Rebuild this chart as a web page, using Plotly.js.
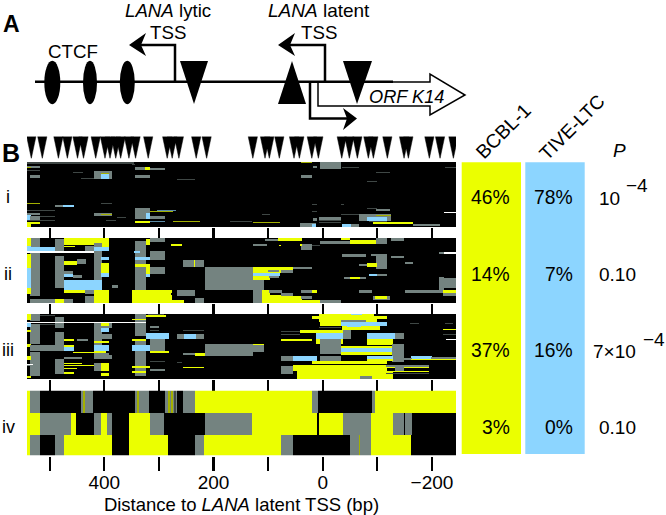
<!DOCTYPE html>
<html><head><meta charset="utf-8">
<script src="https://cdn.plot.ly/plotly-3.0.1.min.js"></script>
<style>html,body{margin:0;padding:0;background:#fff}</style></head>
<body><div id="chart" style="width:666px;height:515px"></div>
<script>
// Methylation sites (bp from LANA latent TSS)
const sites = [533.6,513.5,484,467.6,449,438,415.7,398.7,389.5,379,370,354.9,342.7,319.6,284.8,275.7,263.4,231.7,212.6,
  128,105.7,97.8,79.5,52.6,42.8,20,8,-34.8,-48.7,-63.4,-83.5,-92.7,-118.3,-148.9,-156.8,-195.2,-214.8,-239.2];
const tickBp = [500,400,300,200,100,0,-100,-200];
const tickLabels = ['','400','','200','','0','','\u2212200'];
const rowLabels = ['i','ii','iii','iv'];
const bcbl = ['46%','14%','37%','3%'];
const tive = ['78%','7%','16%','0%'];
const pBase = ['10','0.10','7\u00d710','0.10'];
const pExp = ['\u22124','','\u22124',''];

// Cluster patches: [state, bp from, bp to, first read, last read]
const panelI = [
['D',542,347,0,2],['G',542,518,4,6],['Y',542,535,5,6],['G',542,518,8,9],['G',535,518,13,16],
['G',344,316,5,8],['Y',325,316,5,8],['G',316,289,6,8],['G',344,316,13,16],
['G',418,386,9,17],['B',405,393,11,17],['Y',405,393,11,12],['G',457,438,10,11],['G',441,418,16,17],['G',265,234,17,18],['G',405,386,1,2],['G',350,344,2,3],
['Y',542,518,41,42],['G',489,456,43,45],['B',475,456,43,45],['G',405,386,41,42],
['G',542,490,48,49],['G',542,518,51,53],['G',542,490,54,55],['B',542,535,53,58],['G',535,518,54,58],['G',542,490,58,59],['Y',542,518,60,62],['Y',542,535,62,65],
['G',418,386,51,54],['Y',405,386,52,53],
['G',344,316,46,57],['B',324,316,51,57],['Y',316,274,49,50],['B',304,268,48,49],['G',316,289,54,57],['B',316,289,59,60],['Y',344,316,59,61],['Y',274,225,59,60],['G',375,360,55,56],['G',396,378,58,59],
['G',4,-34,0,7],['Y',39,20,0,1],['G',18,10,4,6],['G',39,20,13,16],['G',-37,-65,5,6],['G',-99,-123,10,11],['G',-83,-99,19,20],['G',-224,-244,5,6],
['G',20,10,42,43],['G',20,10,49,50],['G',-34,-40,42,43],['G',-83,-99,46,47],['G',-99,-123,47,49],['W',-222,-244,50,51],
['G',109,97,52,53],['G',18,10,56,59],['G',5,-33,55,59],['G',-34,-71,52,53],['G',-67,-126,52,59],['B',-83,-117,55,59],['Y',-99,-126,53,54],['G',5,-34,60,61],['Y',-92,-166,60,62],['G',-166,-215,62,64],['G',-86,-117,59,60],
['G',170,130,59,60],['Y',127,78,60,61],['G',42,12,61,65],['B',20,12,62,65],['B',-37,-53,62,65],['G',-53,-65,62,65],['G',5,-34,58,59]
];
const panelII = [
['G',535,518,0,58],['Y',542,535,0,8],['B',542,535,8,13],['Y',542,535,16,30],['B',542,535,30,50],['Y',542,535,50,56],
['G',489,474,1,50],['K',489,474,14,18],['Y',474,405,0,7],['Y',405,393,0,9],
['K',452,418,7,9],['Y',474,455,8,9],['G',436,418,8,13],['G',418,405,3,60],['Y',418,405,0,5],['B',542,490,9,13],['B',418,393,9,13],['W',542,418,13,15],
['B',405,393,19,22],['Y',405,393,25,35],['B',405,393,35,39],['Y',474,450,23,27],['G',450,435,21,26],['G',474,458,33,36],['B',474,458,36,39],['G',458,440,37,40],
['B',474,405,42,52],['Y',474,435,52,55],['G',435,418,52,56],['Y',418,393,52,65],['G',535,489,61,65],['Y',489,474,61,65],['G',474,458,61,65],['G',435,418,58,65],
['G',344,324,3,58],['B',344,316,19,22],['Y',344,316,26,29],['Y',324,316,1,7],['Y',324,316,29,36],['B',324,316,36,39],
['G',316,289,0,4],['G',316,289,13,22],['G',316,289,29,36],['B',345,335,13,15],['G',385,375,47,50],
['Y',350,277,52,65],['Y',350,255,62,65],['K',277,265,55,57],['G',265,234,52,58],['G',255,218,22,29],['Y',236,234,22,29],['Y',277,258,6,8],['G',234,218,60,65],
['G',216,128,29,52],
['G',106,82,1,3],['Y',81,38,0,3],['G',127,103,6,8],['Y',80,76,7,8],['G',39,20,6,12],['Y',42,38,6,8],['G',20,5,7,8],
['G',4,-34,3,6],['Y',-50,-99,2,6],['Y',-34,-50,0,2],['G',-34,-50,3,6],['G',-99,-117,0,6],['G',-126,-150,0,3],
['G',-37,-80,16,19],['G',-89,-99,16,18],['G',-99,-117,16,31],['G',-126,-150,18,20],['G',-153,-165,24,26],['W',-221,-244,14,16],['G',-215,-221,14,16],
['Y',-83,-99,25,29],['G',-67,-82,26,28],
['Y',128,54,29,35],['G',54,20,29,31],['B',128,78,35,38],['Y',128,97,38,42],['G',100,81,32,34],['G',75,54,32,35],['G',97,80,38,40],
['G',-41,-80,39,41],['Y',-50,-67,39,41],['G',-86,-117,36,38],['B',-86,-99,36,38],
['G',128,109,42,65],['Y',109,97,52,65],['Y',97,75,57,65],['Y',109,39,58,65],['Y',109,4,62,65],
['G',97,75,52,55],['G',75,54,55,58],['G',39,11,52,55],['Y',20,11,52,55],['G',39,20,58,61],
['G',4,-34,62,65],['G',-67,-89,52,55],['G',-92,-123,58,62],['Y',-97,-117,58,61],['G',-153,-215,52,55],
['G',-215,-221,39,55],['G',-221,-244,40,50],['Y',-221,-244,52,55],['G',-221,-244,55,58]
];
const panelIII = [
['G',535,518,0,7],['G',535,518,10,30],['G',535,518,38,62],['G',489,474,3,14],['G',489,474,18,37],['G',489,474,45,60],['G',418,405,8,45],['G',344,324,0,22],['G',344,324,25,62],
['Y',542,535,0,6],['B',542,535,8,13],['Y',542,535,16,18],['Y',542,535,30,33],['Y',542,535,42,46],['G',542,518,50,52],['W',542,530,50,51],['Y',542,535,62,64],
['G',535,489,31,37],['G',518,490,1,2],['G',518,490,10,11],
['Y',474,457,25,27],['Y',474,457,31,33],['B',474,457,33,37],['Y',474,440,49,50],['Y',474,418,51,52],['Y',474,450,54,55],['Y',474,457,58,60],['Y',457,418,38,39],['G',474,440,43,45],
['G',418,386,8,14],['G',418,386,20,25],['G',418,405,14,18],['B',405,393,14,18],['Y',405,393,9,12],['Y',418,393,27,29],['B',418,393,31,37],['Y',418,396,37,39],['G',418,393,39,41],['G',405,386,41,45],['G',418,405,49,57],['Y',405,393,49,57],['Y',405,393,59,62],['G',418,405,29,31],['G',450,430,25,27],
['Y',350,324,5,6],['Y',350,324,25,27],['B',349,316,31,37],['Y',350,316,52,54],['Y',350,324,57,59],['Y',324,286,1,3],['G',320,290,0,1],
['W',542,324,8,9],
['B',324,283,19,25],['G',316,289,25,37],['Y',316,283,37,39],['G',316,289,47,48],['G',316,289,55,57],['G',316,300,12,14],['G',316,300,16,17],
['B',255,231,20,25],['G',265,255,20,25],['G',231,218,20,25],['Y',234,216,39,42],['G',255,234,39,41],['G',255,218,16,17],['Y',255,218,53,54],['G',265,258,48,49],
['G',216,128,30,42],['G',128,109,30,38],['Y',128,109,30,31],
['Y',5,-93,0,2],['B',-53,-71,0,1],['Y',20,-117,2,5],['Y',5,-100,5,8],['Y',4,-34,8,12],['B',-34,-117,8,12],['Y',-37,-105,12,16],['B',-45,-70,12,13],['G',-34,-80,6,8],['G',5,-34,13,14],
['Y',42,-38,16,19],['G',75,42,17,18],['G',75,42,20,21],['B',11,-38,19,25],['G',-38,-51,16,25],['B',-83,-132,19,25],['G',-132,-150,19,25],
['Y',11,-38,25,30],['Y',75,20,25,27],['Y',-83,-129,25,31],['G',4,-33,25,40],
['B',-34,-129,34,38],['Y',-34,-129,32,34],['Y',-34,-129,38,41],['G',-129,-150,30,48],
['B',54,11,42,47],['G',75,54,42,47],['G',4,-33,42,47],['Y',-83,-129,42,47],['B',-83,-129,42,45],
['Y',20,-117,47,50],['Y',54,-117,51,57],['G',75,54,52,60],['Y',45,-129,57,65],['G',-68,-89,62,65],
['B',-163,-199,42,46],['G',-199,-244,43,46],['G',-150,-163,44,46],['Y',-163,-244,45,46],
['G',-117,-196,51,53],['Y',-117,-196,53,54],['G',-132,-150,51,57],['Y',-117,-196,57,58],['G',-117,-196,59,60],
['Y',-221,-244,15,16],['G',-221,-244,20,21],['W',-226,-244,25,26],['G',-160,-175,9,10],['G',-225,-240,9,10]
];
// Panel iv: three reads as runs [first read, last read, edges, states]
const panelIV = [
[0,22,[542,535,518,442,419,344,318,288,266,255,234,19,8,-91,-97,-244],'YGKGKGKGKGYGKGY'],
[22,44,[542,518,473,460,452,418,405,393,386,354,316,289,216,129,10,5,-39,-89,-130,-165,-244],'YGGYKGYGKYGKGYKYGYGK'],
[44,65,[542,535,518,489,474,385,354,284,233,217,75,54,-51,-89,-163,-244],'YGKGYKYKGYGKGYK']
];
const stripesIV = [['y',438,436,0,22],['y',339,337,0,22],['y',283,281,0,22],['y',277,275,0,22],['D',271,269,0,22],['K',-150,-152,22,44],['y',-66,-68,44,65]];

const STATE = {K:0,G:1,Y:2,B:3,W:4,D:5,y:6,b:7};
const DIM = {G:'D',Y:'y',B:'b'};
const xCentres = []; for (let b = 542; b >= -244; b -= 2) xCentres.push(b - 1);
const yCentres = []; for (let r = 0; r < 65; r++) yCentres.push(r + 0.5);
function grid(patches, runs, dimStates) {
  const z = yCentres.map(() => xCentres.map(() => 0));
  const paint = (s, a, b, r0, r1) => {
    if (dimStates && r1 - r0 === 1 && dimStates.includes(s)) s = DIM[s];
    for (let r = r0; r < r1; r++) xCentres.forEach((x, i) => { if (x <= a && x >= b) z[r][i] = STATE[s]; });
  };
  (runs || []).forEach(([r0, r1, e, st]) => { for (let i = 0; i < st.length; i++) paint(st[i], e[i], e[i+1], r0, r1); });
  patches.forEach(p => paint(...p));
  return z;
}
const W = 666, H = 515;
const px = x => x / W, py = y => 1 - y / H;
const colours = ['#000000','#748380','#ebff00','#8cd5ff','#ffffff','#3f4745','#a3b000','#5a8aa6'];
const scale = [];
colours.forEach((c,i)=>{ scale.push([i/8,c]); scale.push([(i+1)/8,c]); });
const panels = [grid(panelI,null,'GYB'), grid(panelII,null,'G'), grid(panelIII,null,'G'), grid(stripesIV, panelIV)];
const tops = [162, 238, 314, 390.5];
const traces = panels.map((z, i) => ({
  type:'heatmap', z, x:xCentres, y:yCentres, zmin:0, zmax:8, colorscale:scale, showscale:false, hoverinfo:'skip',
  xaxis: i ? 'x'+(i+1) : 'x', yaxis: i ? 'y'+(i+1) : 'y'
}));
// site markers
const sx = [], sy = [];
sites.forEach(s => { sx.push(s+8.5, s-8.5, s, s+8.5, null); sy.push(1,1,0,1,null); });
traces.push({type:'scatter', mode:'lines', x:sx, y:sy, fill:'toself', fillcolor:'#000', line:{color:'#000',width:0.5}, xaxis:'x', yaxis:'y5', hoverinfo:'skip', showlegend:false});

const layout = {width:W, height:H, margin:{l:0,r:0,t:0,b:0}, paper_bgcolor:'#fff', plot_bgcolor:'#fff', showlegend:false,
  font:{family:'Liberation Sans, Arial, sans-serif', color:'#000', size:18}, shapes:[], annotations:[]};
const dom = [27/W, 456/W];
tops.forEach((t, i) => {
  const k = i ? String(i+1) : '';
  layout['xaxis'+k] = {domain:dom, range:[541.5,-244], anchor:'y'+k, tickmode:'array', tickvals:tickBp, ticktext:i===3?tickLabels:tickBp.map(()=> ''),
    ticks:'outside', ticklen:i===3?14:11, tickwidth:2.2, tickcolor:'#000', showgrid:false, zeroline:false, showline:false, showticklabels:i===3, tickfont:{size:19}, ticklabelstandoff:i===3?-4:0};
  if (i) layout['xaxis'+k].matches = 'x';
  layout['yaxis'+k] = {domain:[py(t+65), py(t)], range:[65,0], anchor:'x'+k, visible:false};
});
layout.xaxis4.title = {text:'Distance to <i>LANA</i> latent TSS (bp)', font:{size:18.5}, standoff:6};
layout.yaxis5 = {domain:[py(158.5), py(136.5)], range:[0,1], anchor:'x', visible:false};

// diagram helpers
const P = pts => pts.map((p,i)=>(i?'L':'M')+px(p[0])+','+py(p[1])).join(' ');
const path = (pts, fill, lw, close) => layout.shapes.push({type:'path', xref:'paper', yref:'paper', path:P(pts)+(close?' Z':''), fillcolor:fill||'rgba(0,0,0,0)', line:{color:'#000',width:lw===undefined?2.5:lw}});
const ell = (cx, cy, rx, ry) => layout.shapes.push({type:'circle', xref:'paper', yref:'paper', x0:px(cx-rx), x1:px(cx+rx), y0:py(cy+ry), y1:py(cy-ry), fillcolor:'#000', line:{width:0}});
const rect = (x0,x1,y0,y1,c) => layout.shapes.push({type:'rect', xref:'paper', yref:'paper', x0:px(x0), x1:px(x1), y0:py(y1), y1:py(y0), fillcolor:c, line:{width:0}});
const T = (text,x,y,size,o) => layout.annotations.push(Object.assign({text, x:px(x), y:py(y), xref:'paper', yref:'paper', showarrow:false, xanchor:'center', yanchor:'middle', font:{size}}, o||{}));

rect(461.7,521,162.3,454,'#ebff00');
rect(525.3,584.7,162.3,454,'#8cd5ff');
// ORF block arrow and main line
path([[318,82],[430,82],[430,74],[465,95],[430,115],[430,106],[318,106]],'#fff',1.5,true);
path([[35,81.7],[393,81.7]]);
ell(52.3,82.5,8,21.7); ell(90,82.5,7,21.7); ell(127.3,82.5,7.5,21.7);
path([[180,61],[208,61],[194,104]],'#000',0,true);
path([[292,61],[278,104],[306,104]],'#000',0,true);
path([[343,61],[372,61],[357,104]],'#000',0,true);
path([[175,81.7],[175,45],[135,45]]);
path([[129,45],[146,33],[141,45],[146,56]],'#000',0,true);
path([[325,81.7],[325,45],[284,45]]);
path([[278,45],[295,33],[290,45],[295,56]],'#000',0,true);
path([[310,81.7],[310,118.5],[350,118.5]]);
path([[357,118.5],[343,108],[347,118.5],[343,130]],'#000',0,true);

T('<b>A</b>',11,24,23);
T('<b>B</b>',11,152.5,25);
T('<i>LANA</i> lytic',168,11,18.7);
T('TSS',168,32,18.7);
T('<i>LANA</i> latent',319,11,19);
T('TSS',319,32,18.7);
T('CTCF',72.5,51,18.7);
T('<i>ORF K14</i>',406,97,18.2);
const rowY = [197,274,350,427], rowLX = [7.5,8,8,8];
rowLabels.forEach((t,i)=>T(t,rowLX[i],rowY[i],18));
bcbl.forEach((t,i)=>T(t,511.5,rowY[i],19.3,{xanchor:'right'}));
tive.forEach((t,i)=>T(t,574.5,rowY[i],19.3,{xanchor:'right'}));
const baseRight = [622,638,638,638], expLeft = [624,0,641,0];
pBase.forEach((t,i)=>{
  T(t,baseRight[i],rowY[i]+(pExp[i]?1:0),19,{xanchor:'right'});
  if (pExp[i]) T(pExp[i],expLeft[i],rowY[i]-11,19,{xanchor:'left'});
});
T('<i>P</i>',619,150,19);
T('BCBL-1',503,131,19.5,{textangle:-45});
T('TIVE-LTC',572,128,19,{textangle:-45});

Plotly.newPlot('chart', traces, layout, {displayModeBar:false, staticPlot:true});
</script></body></html>
